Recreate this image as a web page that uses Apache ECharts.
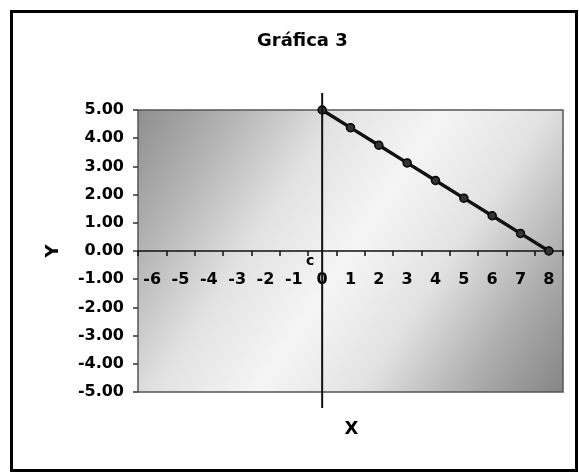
<!DOCTYPE html>
<html>
<head>
<meta charset="utf-8">
<script src="https://cdn.jsdelivr.net/npm/echarts@6/dist/echarts.min.js"></script>
<style>html,body{margin:0;padding:0;background:#fff;}#c{width:579px;height:476px;}</style>
</head>
<body>
<div id="c"></div>
<script>
var titleText = 'Gráfica 3';
var xCategories = ['-6','-5','-4','-3','-2','-1','0','1','2','3','4','5','6','7','8'];
var yValues = [null,null,null,null,null,null,5,4.375,3.75,3.125,2.5,1.875,1.25,0.625,0];
var xName = 'X';
var yName = 'Y';
var originNote = 'c';

var FONT = 'DejaVu Sans';
var chart = echarts.init(document.getElementById('c'), null, {renderer:'canvas'});
var option = {
  animation: false,
  backgroundColor: '#fff',
  title: {
    text: titleText, left: 252, top: 27,
    textStyle: {fontFamily: FONT, fontWeight: 'bold', fontSize: 18, color: '#000'}
  },
  grid: {
    left: 138, right: 16, top: 110, bottom: 84, show: true,
    borderColor: '#555', borderWidth: 1.5,
    backgroundColor: new echarts.graphic.LinearGradient(0, 0, 1, 1, [
      {offset: 0, color: '#8e8e8e'},
      {offset: 0.16, color: '#b4b4b4'},
      {offset: 0.33, color: '#e2e2e2'},
      {offset: 0.5, color: '#f5f5f5'},
      {offset: 0.67, color: '#e2e2e2'},
      {offset: 0.84, color: '#aeaeae'},
      {offset: 1, color: '#848484'}
    ])
  },
  xAxis: {
    type: 'category', data: xCategories, boundaryGap: true,
    axisLine: {show: true, onZero: true, lineStyle: {color: '#111', width: 1.5}},
    axisTick: {show: true, inside: false, length: 5, lineStyle: {color: '#111', width: 1.5}},
    axisLabel: {fontFamily: FONT, fontWeight: 'bold', fontSize: 16, color: '#000', margin: -121, interval: 0},
    splitLine: {show: false}
  },
  yAxis: {
    type: 'value', min: -5, max: 5, interval: 1,
    name: yName, nameLocation: 'middle', nameRotate: 90, nameGap: 76,
    nameTextStyle: {fontFamily: FONT, fontWeight: 'bold', fontSize: 18, color: '#000'},
    axisLine: {show: false},
    axisTick: {show: true, inside: false, length: 5, lineStyle: {color: '#333', width: 1.5}},
    axisLabel: {fontFamily: FONT, fontWeight: 'bold', fontSize: 16, color: '#000', margin: 14,
      formatter: function (v) { return v.toFixed(2); }},
    splitLine: {show: false}
  },
  series: [{
    type: 'line', data: yValues, connectNulls: false,
    lineStyle: {color: '#111', width: 3.5},
    symbol: 'circle', symbolSize: 8,
    itemStyle: {color: '#333', borderColor: '#000', borderWidth: 1.5},
    z: 5
  }]
};
chart.setOption(option);

var o = chart.convertToPixel({xAxisIndex: 0, yAxisIndex: 0}, ['0', 0]);
var top5 = chart.convertToPixel({yAxisIndex: 0}, 5);
var bot5 = chart.convertToPixel({yAxisIndex: 0}, -5);
var xMid = chart.convertToPixel({xAxisIndex: 0}, '1');
chart.setOption({
  xAxis: {axisLabel: {margin: 21 - (bot5 - o[1])}},
  graphic: [
    {type: 'rect', shape: {x: 11.5, y: 11.5, width: 565, height: 459},
     style: {fill: null, stroke: '#000', lineWidth: 3}, z: 100},
    {type: 'line', shape: {x1: o[0], y1: top5 - 17, x2: o[0], y2: bot5 + 16},
     style: {stroke: '#111', lineWidth: 2}, z: 50},
    {type: 'text', x: o[0] - 12, y: o[1] + 10,
     style: {text: originNote, fontFamily: FONT, fontWeight: 'bold', fontSize: 14, fill: '#000',
       align: 'center', verticalAlign: 'middle'}, z: 50},
    {type: 'text', x: xMid + 1, y: bot5 + 37,
     style: {text: xName, fontFamily: FONT, fontWeight: 'bold', fontSize: 18, fill: '#000',
       align: 'center', verticalAlign: 'middle'}, z: 50}
  ]
});
</script>
</body>
</html>
